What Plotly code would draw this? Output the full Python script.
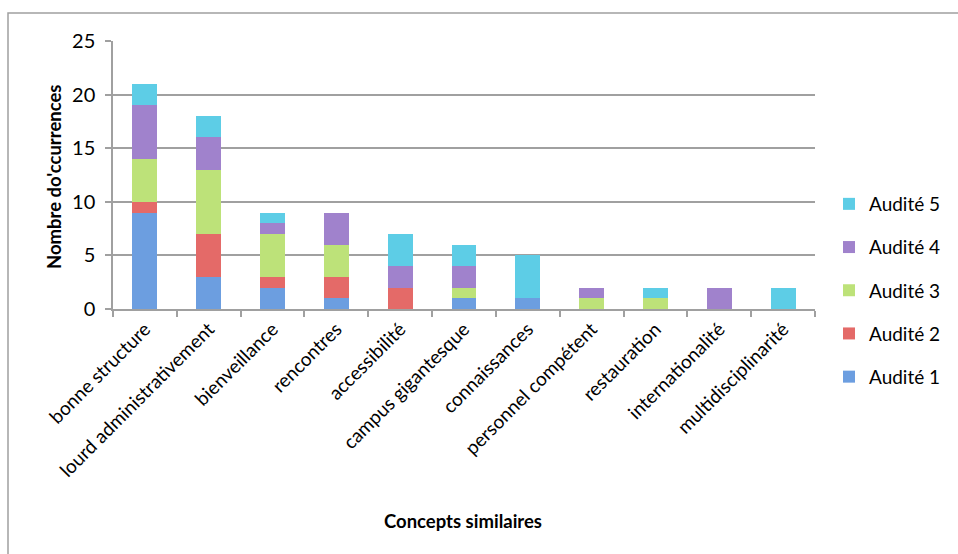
import plotly.graph_objects as go

categories = ["bonne structure", "lourd administrativement", "bienveillance", "rencontres",
              "accessibilité", "campus gigantesque", "connaissances", "personnel compétent",
              "restauration", "internationalité", "multidisciplinarité"]
audite1 = [9, 3, 2, 1, 0, 1, 1, 0, 0, 0, 0]
audite2 = [1, 4, 1, 2, 2, 0, 0, 0, 0, 0, 0]
audite3 = [4, 6, 4, 3, 0, 1, 0, 1, 1, 0, 0]
audite4 = [5, 3, 1, 3, 2, 2, 0, 1, 0, 2, 0]
audite5 = [2, 2, 1, 0, 3, 2, 4, 0, 1, 0, 2]
series_names = ["Audité 1", "Audité 2", "Audité 3", "Audité 4", "Audité 5"]
colors = ["#6c9ee0", "#e46a68", "#bde279", "#a082cc", "#5dcde6"]

FONT = "Lato, 'Open Sans', sans-serif"

fig = go.Figure()
series = [audite1, audite2, audite3, audite4, audite5]
for i, (name, vals) in enumerate(zip(series_names, series)):
    fig.add_trace(go.Bar(
        x=categories, y=vals, name=name, legendgroup=name,
        legendrank=len(series) - i,
        marker=dict(color=colors[i], line=dict(width=0)),
    ))

# plot area: x 113..815, y 41..309
L, R, T, B = 113, 815, 41, 309
W, H = 958, 554
pw, ph = R - L, B - T

def px_x(p):
    return (p - L) / pw

def px_y(p):
    return (B - p) / ph

fig.update_layout(
    width=W, height=H,
    margin=dict(l=L, r=W - R, t=T, b=H - B, pad=0),
    barmode="stack", bargap=0.61,
    paper_bgcolor="white", plot_bgcolor="white",
    font=dict(family=FONT, color="black", size=16),
    showlegend=True,
    legend=dict(
        x=px_x(829), y=px_y(185), xanchor="left", yanchor="top",
        traceorder="grouped", tracegroupgap=15.5,
        font=dict(size=19, family=FONT), itemwidth=30,
        bgcolor="rgba(0,0,0,0)",
    ),
    xaxis=dict(
        showgrid=False, showline=True, linecolor="#a0a0a0", linewidth=1.5,
        ticks="outside", tickson="boundaries", ticklen=6, tickcolor="#a0a0a0", tickwidth=1.5,
        tickangle=-45, tickfont=dict(size=19, family=FONT),
    ),
    yaxis=dict(
        range=[0, 25], dtick=5, showgrid=True, gridcolor="#a0a0a0", gridwidth=1.5,
        showline=True, linecolor="#a0a0a0", linewidth=1.5,
        ticks="outside", ticklen=6, tickcolor="#a0a0a0", tickwidth=1.5,
        tickfont=dict(size=20, family=FONT), zeroline=False, ticklabelstandoff=6,
    ),
    annotations=[
        dict(text="<b>Concepts similaires</b>", xref="paper", yref="paper",
             x=px_x(463), y=px_y(521), xanchor="center", yanchor="middle",
             showarrow=False, font=dict(size=18.5, family=FONT)),
        dict(text="<b>Nombre do'ccurrences</b>", xref="paper", yref="paper",
             x=px_x(54), y=px_y(177), xanchor="center", yanchor="middle", textangle=-90,
             showarrow=False, font=dict(size=18.5, family=FONT)),
    ],
)

# outer frame of the chart image
fig.add_shape(type="rect", xref="paper", yref="paper",
              x0=px_x(8), x1=px_x(990), y0=px_y(600), y1=px_y(13),
              line=dict(color="#a0a0a0", width=1.5), fillcolor="rgba(0,0,0,0)", layer="below")

fig.write_html("out.html")
